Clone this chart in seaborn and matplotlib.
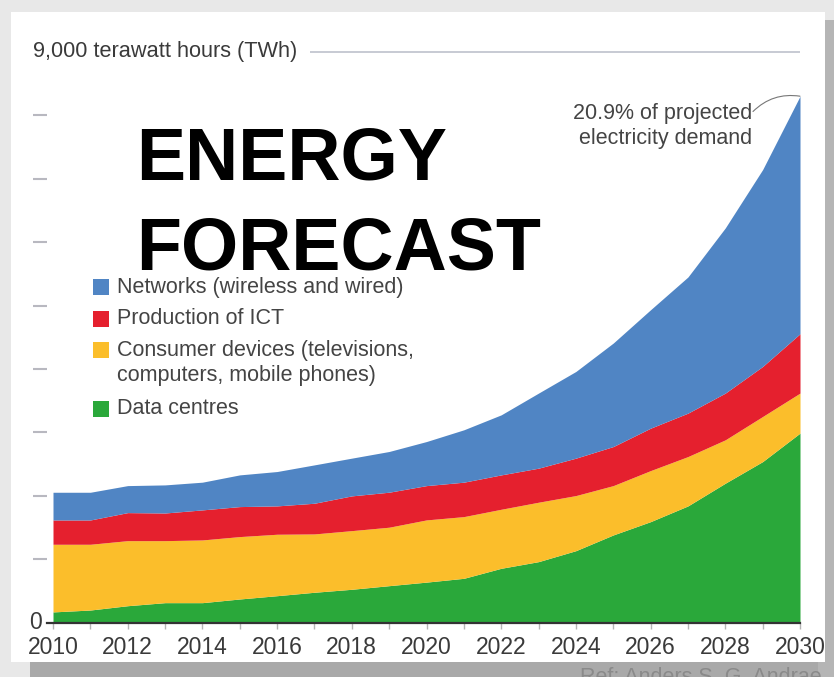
import matplotlib
matplotlib.use("Agg")
import matplotlib.pyplot as plt
from matplotlib.patches import Rectangle
import seaborn as sns

# ---- data (TWh) ----
years = list(range(2010, 2031))
data_centres = [170, 200, 268, 316, 316, 374, 426, 480, 527, 584, 640, 700, 858, 963, 1136, 1384, 1594, 1842, 2200, 2541, 2990]
consumer_devices = [1067, 1037, 1026, 978, 989, 984, 969, 920, 925, 922, 981, 973, 931, 937, 869, 778, 805, 778, 684, 711, 631]
production_ict = [383, 383, 442, 436, 474, 473, 447, 484, 548, 552, 541, 543, 542, 537, 590, 616, 669, 685, 737, 789, 936]
networks = [437, 437, 426, 443, 437, 500, 542, 605, 595, 642, 695, 826, 947, 1184, 1367, 1632, 1868, 2147, 2605, 3105, 3746]

series_labels = ["Data centres",
                 "Consumer devices (televisions,\ncomputers, mobile phones)",
                 "Production of ICT",
                 "Networks (wireless and wired)"]
series_colors = ["#2aa83a", "#fbbe2b", "#e5202e", "#5085c4"]

x_tick_labels = [str(y) for y in range(2010, 2031, 2)]
y_ticks = [1000, 2000, 3000, 4000, 5000, 6000, 7000, 8000]
header_label = "9,000 terawatt hours (TWh)"
annotation_text = "20.9% of projected\nelectricity demand"
title_lines = ["ENERGY", "FORECAST"]
ref_text = "Ref: Anders S. G. Andrae"

# ---- style ----
sns.set_style("white")
plt.rcParams['font.family'] = ['Liberation Sans', 'DejaVu Sans']

W, H = 834, 677
fig = plt.figure(figsize=(W / 100, H / 100), dpi=100)
fig.patch.set_facecolor("#e8e8e8")

def px_rect(x0, y0, x1, y1, color, z):
    fig.add_artist(Rectangle((x0 / W, 1 - y1 / H), (x1 - x0) / W, (y1 - y0) / H,
                             transform=fig.transFigure, facecolor=color,
                             edgecolor="none", zorder=z))

# shadow + white card
px_rect(30, 640, 834, 677, "#a9a9a9", -10)
px_rect(818, 20, 834, 677, "#b5b5b5", -10)
px_rect(11, 12, 825, 662, "white", -5)

ax = fig.add_axes([47 / W, (H - 622.7) / H, 753 / W, (622.7 - 52) / H])
ax.set_facecolor("none")

ax.stackplot(years, data_centres, consumer_devices, production_ict, networks,
             colors=series_colors, linewidth=0)

ax.set_xlim(2010 - 6 / 37.35, 2030)
ax.set_ylim(0, 9000)

for s in ["top", "right", "left"]:
    ax.spines[s].set_visible(False)
ax.spines["bottom"].set_color("#333333")
ax.spines["bottom"].set_linewidth(1.6)
ax.spines["bottom"].set_zorder(5)

ax.set_xticks(list(range(2010, 2031, 2)))
ax.set_xticklabels(x_tick_labels)
ax.set_xticks(list(range(2011, 2030, 2)), minor=True)
ax.tick_params(axis="x", which="both", direction="out", length=4.5, width=1.0,
               color="#b5b5b5", bottom=True)
ax.tick_params(axis="x", which="major", labelsize=16.5, labelcolor="#3a3a3a", pad=5)

ax.set_yticks(y_ticks)
ax.set_yticklabels([])
ax.tick_params(axis="y", direction="out", length=10, width=1.5, color="#b8b8c0", left=True)

ax.text(-0.007, 0, "0", transform=ax.get_yaxis_transform(), ha="right", va="center",
        fontsize=16.5, color="#3a3a3a")

# header line at 9000
ax.text(2010 + (33 - 53) / 37.35, 9000, header_label, ha="left", va="center",
        fontsize=15.7, color="#3a3a3a", clip_on=False)
ax.hlines(9000, 2010 + (310 - 53) / 37.35, 2030, colors="#b8bcc8", linewidth=1.1, clip_on=False)

# annotation
blue_top = data_centres[-1] + consumer_devices[-1] + production_ict[-1] + networks[-1]
ax.text(2010 + (752 - 53) / 37.35, (622.7 - 126.5) / 63.35 * 1000, annotation_text,
        ha="right", va="center", fontsize=15.5, color="#444444", linespacing=1.2)
ax.annotate("", xy=(2030, blue_top), xytext=(2010 + (753 - 53) / 37.35, (622.7 - 112) / 63.35 * 1000),
            arrowprops=dict(arrowstyle="-", connectionstyle="arc3,rad=-0.25",
                            color="#777777", lw=0.8, shrinkA=0, shrinkB=0))

# legend (manual)
legend_rows = [(3, 287), (2, 318.5), (1, 350), (0, 409)]
for idx, yc in legend_rows:
    px_rect(93, yc - 8, 109, yc + 8, series_colors[idx], 10)
    label = series_labels[idx]
    if "\n" in label:
        fig.text(117 / W, 1 - (yc - 10) / H, label, ha="left", va="top",
                 fontsize=15.5, color="#444444", linespacing=1.25, zorder=10)
    else:
        fig.text(117 / W, 1 - yc / H, label, ha="left", va="center",
                 fontsize=15.5, color="#444444", zorder=10)

# big title
fig.text(136 / W, 1 - 180 / H, title_lines[0], ha="left", va="baseline",
         fontsize=53, fontweight="bold", color="black", zorder=20)
fig.text(136 / W, 1 - 270 / H, title_lines[1], ha="left", va="baseline",
         fontsize=53, fontweight="bold", color="black", zorder=20)

fig.text(580 / W, 1 - 683 / H, ref_text, ha="left", va="baseline", fontsize=15.5,
         color="#8a8a8a")

fig.savefig("out.png", dpi=100, facecolor=fig.get_facecolor())
